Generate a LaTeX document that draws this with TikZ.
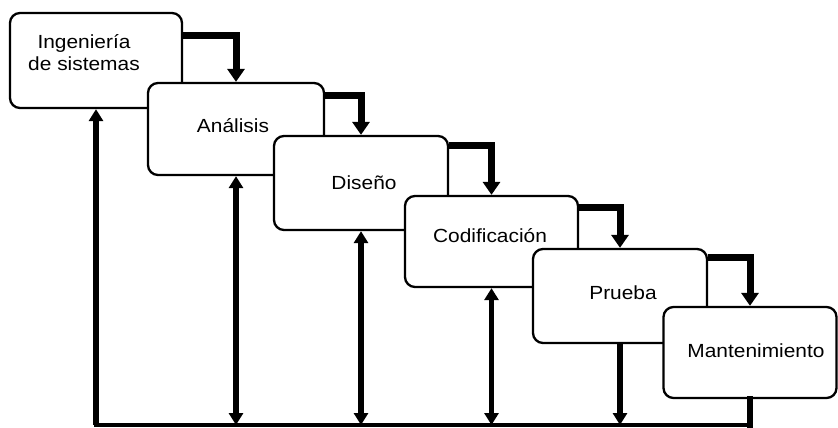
\documentclass[tikz,border=0pt]{standalone}
\usepackage{fontspec}
\setmainfont{Liberation Sans}[FakeStretch=1.1]
\usetikzlibrary{arrows.meta,calc}
\begin{document}
\begin{tikzpicture}[x=1pt,y=-1pt,
  stagebox/.style={draw,fill=white,rounded corners=10pt,line width=2.3pt,inner sep=0pt},
  stagetext/.style={font=\fontsize{19}{22}\selectfont,align=center,inner sep=0pt},
  fb/.style={line width=7pt,-{Triangle[width=17pt,length=13pt]}},
  vup/.style={line width=5.5pt,-{Triangle[width=14pt,length=12pt]}},
  vboth/.style={line width=5.5pt,{Triangle[width=14pt,length=12pt]}-{Triangle[width=14pt,length=12pt]}},
  vplain/.style={line width=5.5pt,line cap=rect},
  baseline/.style={line width=4pt,line cap=rect}]
\useasboundingbox (0,0) rectangle (838,428);
% boxes
\node[stagebox,minimum width=172pt,minimum height=95pt] (b1) at (96,60.5) {};
\node[stagebox,minimum width=176pt,minimum height=92pt] (b2) at (236,129) {};
\node[stagebox,minimum width=174pt,minimum height=94pt] (b3) at (361,183) {};
\node[stagebox,minimum width=173pt,minimum height=91pt] (b4) at (491.5,241.5) {};
\node[stagebox,minimum width=174pt,minimum height=94pt] (b5) at (620,296) {};
\node[stagebox,minimum width=173pt,minimum height=91pt] (b6) at (750,352.5) {};
% texts
\node[stagetext] (t1) at (84,53) {Ingeniería\\de sistemas};
\node[stagetext,anchor=base] (t2) at (233,132) {Análisis};
\node[stagetext,anchor=base] (t3) at (364,189) {Diseño};
\node[stagetext,anchor=base] (t4) at (490,242) {Codificación};
\node[stagetext,anchor=base] (t5) at (623,299) {Prueba};
\node[stagetext,anchor=base] (t6) at (756,357) {Mantenimiento};
% forward arrows
\draw[fb] ($(b1.north east)+(0,24)$) -| (b2.north);
\draw[fb] ($(b2.north east)+(0,14)$) -| (b3.north);
\draw[fb] ($(b3.north east)+(0,11)$) -| (b4.north);
\draw[fb] ($(b4.north east)+(0,13)$) -| (b5.north);
\draw[fb] ($(b5.north east)+(0,10)$) -| (b6.north);
% return lines
\coordinate (base) at (0,425);
\draw[baseline] (b1.south |- base) -- (b6.south |- base);
\draw[vup] (b1.south |- base) -- (b1.south);
\draw[vboth] (b2.south |- base) -- (b2.south);
\draw[vboth] (b3.south |- base) -- (b3.south);
\draw[vboth] (b4.south |- base) -- (b4.south);
\draw[vup] (b5.south) -- (b5.south |- base);
\draw[vplain] (b6.south) -- (b6.south |- base);
\end{tikzpicture}
\end{document}
